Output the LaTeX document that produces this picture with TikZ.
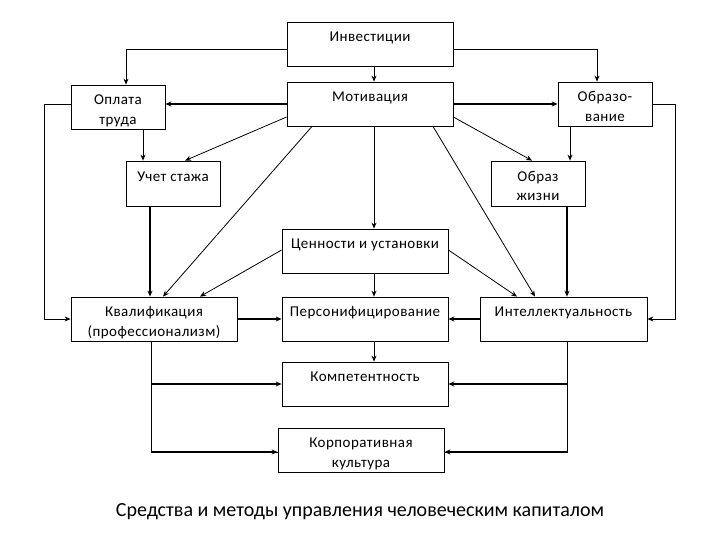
\documentclass[tikz,border=0pt]{standalone}
\usepackage{fontspec}
\setmainfont{Carlito}
\newfontfamily\boxfont[LetterSpace=3]{Carlito}
\usetikzlibrary{arrows.meta}
\newcommand\topln{\rule{0pt}{19.5pt}}
\tikzset{
  blk/.style={draw,line width=0.8pt,minimum height=44pt,align=center,inner sep=0pt,
    font=\boxfont\fontsize{15}{19.5}\selectfont,
    execute at end node=\rule[-4.5pt]{0pt}{4.5pt}},
  wide/.style={blk,minimum width=166pt},
  narrow/.style={blk,minimum width=94pt},
  arr/.style={line width=0.8pt,-{Stealth[length=6pt,width=5pt]}},
  arrb/.style={line width=1.5pt,-{Stealth[length=6pt,width=5pt]}}
}
\begin{document}
\begin{tikzpicture}[x=1pt,y=-1pt]
    \useasboundingbox (0,0) rectangle (720,540);

    \node[wide] (inv) at (370,44) {\topln Инвестиции\\};
    \node[wide] (mot) at (370,104) {\topln Мотивация\\};
    \node[narrow] (opl) at (118,107) {\topln Оплата\\труда};
    \node[narrow] (obr) at (605,104) {\topln Образо-\\вание};
    \node[narrow,minimum height=45pt] (uch) at (173,183.5) {\topln Учет стажа\\};
    \node[narrow,minimum height=45pt] (obz) at (538,183.5) {\topln Образ\\жизни};
    \node[wide] (cen) at (365,251) {\topln Ценности и установки\\};
    \node[wide] (kva) at (154,319) {\topln Квалификация\\(профессионализм)};
    \node[wide] (per) at (365,319) {\topln Персонифицирование\\};
    \node[wide,minimum width=167pt] (int) at (563.5,319) {\topln Интеллектуальность\\};
    \node[wide] (kom) at (365,384) {\topln Компетентность\\};
    \node[wide] (kor) at (361,450) {\topln Корпоративная\\культура};

    \node[font=\fontsize{20}{24}\selectfont] (ttl) at (360,512) {Средства и методы управления человеческим капиталом};

    \coordinate (kvb) at ([xshift=-3pt]kva.south);
    \coordinate (inb) at ([xshift=3.5pt]int.south);

    \draw[arr] ([yshift=-5pt]inv.west) -| ([xshift=8pt]opl.north);
    \draw[arr] ([yshift=-5pt]inv.east) -| ([xshift=-8pt]obr.north);
    \draw[arr] ([xshift=4pt]inv.south) -- ([xshift=4pt]mot.north);

    \draw[arrb] (mot.west) -- (mot.west -| opl.east);
    \draw[arrb] (mot.east) -- (mot.east -| obr.west);
    \draw[arr] ([yshift=-13pt]mot.west) -- ([xshift=12pt]uch.north);
    \draw[arr] ([xshift=-58pt]mot.south) -- ([xshift=9pt]kva.north);
    \draw[arr] ([yshift=-13pt]mot.east) -- ([xshift=-6pt]obz.north);
    \draw[arr] ([xshift=63pt]mot.south) -- ([xshift=-28.5pt]int.north);
    \draw[arr] ([xshift=4pt]mot.south) -- ([xshift=9pt]cen.north);

    \draw[arr] ([xshift=25pt]opl.south) -- ([xshift=-30pt]uch.north);
    \draw[arr] ([yshift=3pt]opl.west) -- ++(-26,0) |- (kva.west);
    \draw[arrb] ([xshift=-23pt]uch.south) -- ([xshift=-4pt]kva.north);

    \draw[arr] ([xshift=-35pt]obr.south) -- ([xshift=32pt]obz.north);
    \draw[arr] (obr.east) -- ++(23,0) |- (int.east);
    \draw[arrb] ([xshift=29pt]obz.south) -- ([xshift=3.5pt]int.north);

    \draw[arr] ([yshift=1pt]cen.west) -- ([xshift=46pt]kva.north);
    \draw[arr] ([yshift=1pt]cen.east) -- ([xshift=-46.5pt]int.north);
    \draw[arr] ([xshift=9pt]cen.south) -- ([xshift=9pt]per.north);

    \draw[arrb] (kva.east) -- (per.west);
    \draw[arrb] (int.west) -- (per.east);
    \draw[arr] ([xshift=9pt]per.south) -- ([xshift=9pt]kom.north);

    \draw[line width=0.8pt] (kvb) |- ([yshift=-2pt]kor.west);
    \draw[arrb] (kvb |- kom.west) -- (kom.west);
    \draw[arrb] (kvb |- kor.west) ++(0,2) -- ([yshift=-2pt]kor.west);
    \draw[line width=0.8pt] (inb) |- ([yshift=-2pt]kor.east);
    \draw[arrb] (inb |- kom.east) -- (kom.east);
    \draw[arrb] (inb |- kor.east) ++(0,2) -- ([yshift=-2pt]kor.east);
\end{tikzpicture}
\end{document}
